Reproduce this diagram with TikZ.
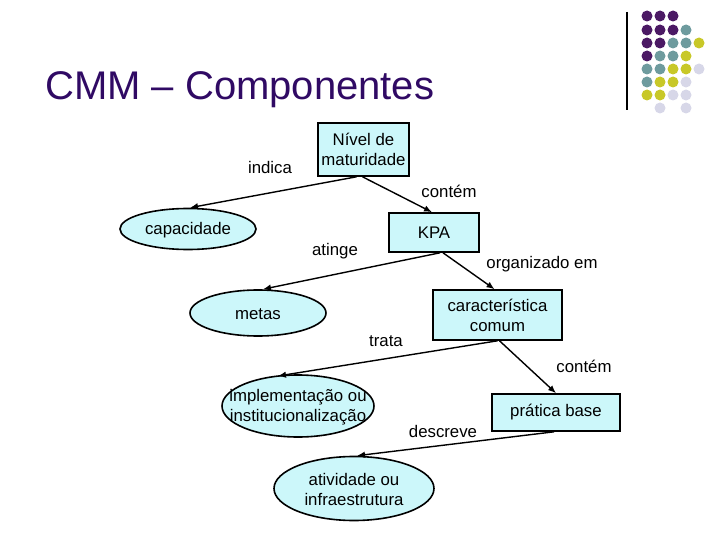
\documentclass[tikz,border=0pt]{standalone}
\usepackage{fontspec}
\setmainfont{Liberation Sans}
\usetikzlibrary{shapes.geometric,calc,arrows.meta}
\definecolor{boxfill}{RGB}{204,247,250}
\definecolor{titlecol}{RGB}{48,10,100}
\definecolor{dpurple}{RGB}{75,25,100}
\definecolor{dteal}{RGB}{110,155,158}
\definecolor{dyellow}{RGB}{200,200,40}
\definecolor{dlav}{RGB}{215,215,232}
\begin{document}
\begin{tikzpicture}[x=1pt,y=-1pt,
  every node/.style={font=\fontsize{16.8}{20}\selectfont},
  boxnode/.style={draw=black,line width=1.6pt,fill=boxfill,align=center,inner sep=0pt},
  ellnode/.style={ellipse,draw=black,line width=1.6pt,fill=boxfill,inner sep=0pt},
  etext/.style={align=center,inner sep=0pt},
  lbl/.style={anchor=base,inner sep=0pt},
  conn/.style={line width=1.4pt,-{Latex[length=8pt,width=6.5pt]}}]
\useasboundingbox (0,0) rectangle (720,540);
% title
\node[anchor=base west,inner sep=0pt,text=titlecol,font=\fontsize{40}{48}\selectfont] (title) at (45,100) {CMM – Componentes};
% decoration
\draw[line width=1.2pt] (627,12) -- (627,110);
\foreach \x/\y/\c in {647/16/dpurple,660/16/dpurple,673/16/dpurple,
  647/30/dpurple,660/30/dpurple,673/30/dpurple,686/30/dteal,
  647/43/dpurple,660/43/dpurple,673/43/dteal,686/43/dteal,699/43/dyellow,
  647/56/dpurple,660/56/dteal,673/56/dteal,686/56/dyellow,
  647/69/dteal,660/69/dteal,673/69/dyellow,686/69/dyellow,699/69/dlav,
  647/82/dteal,660/82/dyellow,673/82/dyellow,686/82/dlav,
  647/95/dyellow,660/95/dyellow,673/95/dlav,686/95/dlav,
  660/108/dlav,686/108/dlav}
  \fill[\c] (\x,\y) circle (5.5);
% nodes
\node[boxnode,minimum width=91pt,minimum height=53pt] (nivel) at (363.5,149.5) {Nível de\\maturidade};
\node[boxnode,minimum width=90pt,minimum height=39pt] (kpa) at (434,232.5) {KPA};
\node[boxnode,minimum width=129pt,minimum height=50pt] (carac) at (497.5,315) {característica\\comum};
\node[boxnode,minimum width=128pt,minimum height=37pt] (pratica) at (556,412.5) {prática base};
\node[ellnode,minimum width=136pt,minimum height=41pt] (cap) at (188,229) {};
\node[etext] (capt) at ($(cap)+(0,1.5)$) {capacidade};
\node[ellnode,minimum width=136pt,minimum height=46pt] (metas) at (258,313) {};
\node[etext] (metast) at ($(metas)+(0,1.5)$) {metas};
\node[ellnode,minimum width=152pt,minimum height=62pt] (impl) at (298,406) {};
\node[etext] (implt) at ($(impl)+(0,1)$) {implementação ou\\institucionalização};
\node[ellnode,minimum width=160pt,minimum height=64pt] (ativ) at (354,488.5) {};
\node[etext] (ativt) at ($(ativ)+(0,1)$) {atividade ou\\infraestrutura};
% connectors
\draw[conn] ($(nivel.south)+(-7,0)$) -- ($(cap.north)+(2,0)$);
\draw[conn] ($(nivel.south)+(-1,0)$) -- ($(kpa.north)+(-2,0)$);
\draw[conn] ($(kpa.south)+(6,0)$) -- ($(metas.north)+(5,0)$);
\draw[conn] ($(kpa.south)+(9,0)$) -- ($(carac.north)+(-3,0)$);
\draw[conn] ($(carac.south)+(0,0)$) -- ($(impl.center)+(-20,-30)$);
\draw[conn] ($(carac.south)+(2,0)$) -- ($(pratica.north)+(0,0)$);
\draw[conn] ($(pratica.south)+(-2,0)$) -- ($(ativ.north)+(3,0)$);
% labels
\node[lbl] (l1) at (270,174) {indica};
\node[lbl] (l2) at (449,198) {contém};
\node[lbl] (l3) at (335,255) {atinge};
\node[lbl] (l4) at (542,268) {organizado em};
\node[lbl] (l5) at (386,346) {trata};
\node[lbl] (l6) at (584,372) {contém};
\node[lbl] (l7) at (443,437) {descreve};
\end{tikzpicture}
\end{document}
